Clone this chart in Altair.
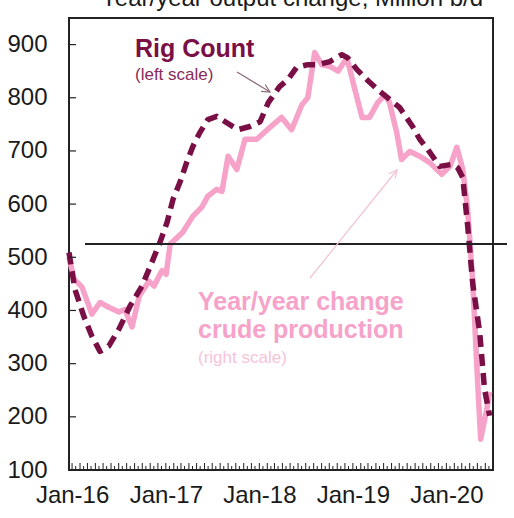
import altair as alt
import pandas as pd

# Oil rig count (left scale)
rig_dates = [
    "2015-12-20", "2016-01-12", "2016-02-16", "2016-03-18", "2016-04-19", "2016-05-23",
    "2016-07-02", "2016-08-14", "2016-09-30", "2016-11-01", "2016-12-09", "2017-01-06",
    "2017-01-29", "2017-02-25", "2017-03-23", "2017-04-16", "2017-05-13", "2017-06-14",
    "2017-07-19", "2017-08-27", "2017-10-09", "2017-11-25", "2018-01-04", "2018-02-05",
    "2018-03-21", "2018-04-22", "2018-05-26", "2018-07-05", "2018-08-17", "2018-10-03",
    "2018-11-19", "2018-12-12", "2019-01-17", "2019-02-25", "2019-04-16", "2019-07-02",
    "2019-08-22", "2019-09-19", "2019-10-20", "2019-12-06", "2020-01-26", "2020-02-15",
    "2020-03-05", "2020-03-24", "2020-04-13", "2020-05-10", "2020-05-29", "2020-06-18",
]
rig_values = [
    509, 440, 389, 352, 323, 333,
    365, 408, 446, 483, 528, 566,
    609, 641, 678, 708, 734, 759,
    765, 753, 740, 746, 755, 791,
    821, 834, 857, 862, 862, 868,
    881, 875, 853, 834, 812, 782,
    746, 722, 703, 671, 675, 668,
    650, 560, 450, 359, 252, 202,
]

# Year/year change in crude production (right scale, drawn on the left-scale units)
prod_dates = [
    "2015-12-20", "2016-01-09", "2016-02-09", "2016-03-18", "2016-04-19", "2016-05-23",
    "2016-07-02", "2016-07-25", "2016-08-22", "2016-09-19", "2016-10-27", "2016-11-16",
    "2016-12-17", "2017-01-02", "2017-01-18", "2017-02-14", "2017-03-08", "2017-04-16",
    "2017-05-21", "2017-06-14", "2017-07-19", "2017-08-08", "2017-09-01", "2017-10-05",
    "2017-11-06", "2017-12-22", "2018-02-01", "2018-03-29", "2018-05-07", "2018-06-16",
    "2018-07-09", "2018-08-05", "2018-09-02", "2018-10-03", "2018-11-04", "2018-12-09",
    "2019-01-09", "2019-02-06", "2019-03-07", "2019-04-08", "2019-05-05", "2019-05-24",
    "2019-06-21", "2019-07-10", "2019-08-11", "2019-09-19", "2019-10-28", "2019-12-14",
    "2020-01-15", "2020-02-11", "2020-03-05", "2020-03-24", "2020-04-13", "2020-05-02",
    "2020-05-14", "2020-06-07", "2020-06-18",
]
prod_values = [
    500, 459, 444, 393, 415, 406,
    397, 402, 369, 427, 455, 446,
    475, 468, 525, 537, 547, 577,
    594, 615, 628, 624, 690, 665,
    722, 722, 740, 763, 740, 787,
    800, 885, 862, 859, 850, 875,
    815, 763, 763, 791, 805, 791,
    735, 684, 699, 690, 678, 656,
    671, 707, 665, 590, 453, 266,
    158, 215, 247,
]

y_ticks = [100, 200, 300, 400, 500, 600, 700, 800, 900]
year_ticks = [2016, 2017, 2018, 2019, 2020]
zero_change_level = [525]

MAROON = "#7A0F45"
PINK = "#F6A2C9"
FONT = "Liberation Sans"
W, H = 424, 452

rig_df = pd.DataFrame({"date": rig_dates, "value": rig_values})
prod_df = pd.DataFrame({"date": prod_dates, "value": prod_values})

minor = pd.date_range("2016-01-01", "2020-06-15", freq="SMS")
minor_df = pd.DataFrame({"date": minor.strftime("%Y-%m-%d"), "major": minor.day == 1})

x_scale = alt.Scale(
    type="utc",
    domain=[alt.DateTime(year=2015, month=12, date=20, utc=True),
            alt.DateTime(year=2020, month=7, date=1, utc=True)],
)
y_scale = alt.Scale(domain=[100, 950], nice=False, zero=False)

x_axis = alt.Axis(
    values=[alt.DateTime(year=y, month=1, date=1, utc=True) for y in year_ticks],
    labelExpr="utcFormat(datum.value, '%b-%y')",
    ticks=False, domain=False, grid=False,
    labelFontSize=24, labelFont=FONT, labelColor="#1a1a1a", labelPadding=13,
    labelFlush=False, labelOverlap=False, title=None,
)
y_axis = alt.Axis(
    values=y_ticks, ticks=False, domain=False, grid=False,
    labelFontSize=24, labelFont=FONT, labelColor="#1a1a1a", labelPadding=22,
    title=None,
)

one = pd.DataFrame({"k": [0]})

prod_line = alt.Chart(prod_df).mark_line(
    color=PINK, strokeWidth=5.5, strokeJoin="round"
).encode(
    x=alt.X("date:T", scale=x_scale, axis=x_axis),
    y=alt.Y("value:Q", scale=y_scale, axis=y_axis),
)

rig_line = alt.Chart(rig_df).mark_line(
    color=MAROON, strokeWidth=5.5, strokeDash=[12, 7], strokeJoin="round"
).encode(
    x=alt.X("date:T", scale=x_scale, axis=x_axis),
    y=alt.Y("value:Q", scale=y_scale, axis=y_axis),
)

zero_rule = alt.Chart(pd.DataFrame({"value": zero_change_level})).mark_rule(
    color="#222222", strokeWidth=2
).encode(
    y=alt.Y("value:Q", scale=y_scale, axis=y_axis),
    x=alt.value(16),
    x2=alt.value(438),
)

y_inner_ticks = alt.Chart(pd.DataFrame({"value": y_ticks})).mark_rule(
    color="#222222", strokeWidth=1.2
).encode(
    y=alt.Y("value:Q", scale=y_scale, axis=y_axis),
    x=alt.value(0),
    x2=alt.value(7),
)

x_minor_major = alt.Chart(minor_df[minor_df["major"]]).mark_rule(
    color="#222222", strokeWidth=1
).encode(
    x=alt.X("date:T", scale=x_scale, axis=x_axis),
    y=alt.value(H),
    y2=alt.value(H - 7),
)
x_minor_half = alt.Chart(minor_df[~minor_df["major"]]).mark_rule(
    color="#222222", strokeWidth=1
).encode(
    x=alt.X("date:T", scale=x_scale, axis=x_axis),
    y=alt.value(H),
    y2=alt.value(H - 4),
)


def label(text, x, y, size, color, weight="normal", align="left"):
    return alt.Chart(one).mark_text(
        text=text, align=align, baseline="alphabetic", font=FONT,
        fontSize=size, fontWeight=weight, color=color,
    ).encode(x=alt.value(x), y=alt.value(y))


def arrow(x1, y1, x2, y2, angle, color):
    shaft = alt.Chart(one).mark_rule(color=color, strokeWidth=1.2).encode(
        x=alt.value(x1), y=alt.value(y1), x2=alt.value(x2), y2=alt.value(y2)
    )
    head = alt.Chart(one).mark_point(
        shape="M-2,-1L0,0L-2,1", filled=False, size=64, strokeWidth=1.2,
        color=color, angle=angle, opacity=1,
    ).encode(x=alt.value(x2), y=alt.value(y2))
    return shaft + head


title = label("Year/year output change, Million b/d", 223, -12, 24, "#1a1a1a", align="center")
rig_label = label("Rig Count", 66, 39, 25, MAROON, weight="bold")
rig_sub = label("(left scale)", 66, 62, 17, "#8A2A5A")
prod_label1 = label("Year/year change", 129, 292, 25, PINK, weight="bold")
prod_label2 = label("crude production", 129, 320, 25, PINK, weight="bold")
prod_sub = label("(right scale)", 129, 345, 17, "#F8C3DA")

rig_arrow = arrow(168, 54, 201, 74, 31, "#8C6A7C")
prod_arrow = arrow(241, 260, 328, 152, 309, "#F2C2D7")

chart = alt.layer(
    prod_line, rig_line, zero_rule, y_inner_ticks, x_minor_major, x_minor_half,
    title, rig_label, rig_sub, prod_label1, prod_label2, prod_sub,
    rig_arrow, prod_arrow,
).properties(
    width=W, height=H,
    autosize=alt.AutoSizeParams(type="none"),
    padding={"left": 69, "top": 18, "right": 21, "bottom": 48},
    background="white",
).configure_view(
    stroke="#222222", strokeWidth=2
)

chart.save("out.html", embed_options={"renderer": "svg", "actions": False})
